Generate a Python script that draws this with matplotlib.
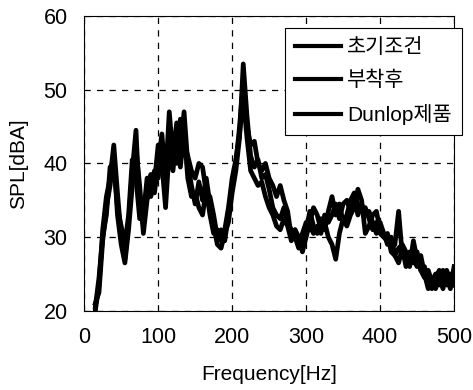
import matplotlib
matplotlib.use("Agg")
from matplotlib import pyplot as plt
import numpy as np

plt.rcParams['font.family'] = ['Liberation Sans', 'Noto Sans CJK KR', 'DejaVu Sans']

# frequency axis, 5 Hz steps
freq = np.arange(15, 505, 5)

# 초기조건
spl_init = [20.0, 23.5, 31, 35.5, 38, 42.5, 36, 30, 27, 32,
            39, 44.5, 34, 31.5, 37, 38.5, 36, 40, 44, 38,
            47, 41, 45.5, 42, 47, 40, 37, 34.5, 37.5, 35,
            38, 34.5, 31.5, 29, 28.5, 30.5, 32, 36, 39, 43.5,
            53.5, 46.5, 41, 39.5, 40.5, 38, 38.5, 36.5, 34, 33,
            32.5, 34, 32, 31, 30, 28.5, 29.5, 31, 33.5, 31.5,
            30.5, 32.5, 31, 33.5, 35.5, 33, 34.5, 32, 33, 35,
            36, 34.5, 33.5, 34, 32.5, 31, 32, 30.5, 30, 29.5,
            28.5, 29, 33.5, 27.5, 27, 26, 29.5, 27, 25.5, 26,
            24, 23, 24.5, 25.5, 24, 23.5, 25, 24.5]

# 부착후
spl_after = [21, 22.5, 29.5, 34, 37, 41, 33, 29, 26.5, 31,
             37, 42, 37, 30.5, 35, 37, 39, 38, 42, 36.5,
             44, 43, 40, 46, 43, 41, 39, 38, 40, 39.5,
             36, 35.5, 33, 30, 31, 29.5, 33, 37, 40, 45,
             51, 45, 42.5, 43, 40, 39, 40, 38, 37, 35.5,
             37, 35, 33.5, 30, 31, 30, 28, 30, 32, 34,
             33, 31, 32, 30, 29, 27, 30.5, 32.5, 31.5, 33,
             34, 36.5, 35, 30.5, 31.5, 33, 33.5, 31, 30, 30.5,
             28, 27.5, 26.5, 28.5, 26, 28, 27, 26, 27.5, 25,
             23, 24, 25, 23.5, 25.5, 24.5, 23, 26]

# Dunlop제품
spl_dunlop = [20.5, 24.5, 30, 33, 39.5, 40, 34, 31.5, 29, 33,
              40.5, 38, 32.5, 33, 38, 35.5, 37.5, 42.5, 40, 34,
              42, 39, 44, 39.5, 44.5, 38, 35.5, 36, 34, 33,
              36.5, 33, 30.5, 31, 29.5, 31, 34, 38, 40.5, 44,
              49, 43.5, 39, 38, 37, 37.5, 35.5, 34, 33, 31.5,
              31, 32.5, 31.5, 29.5, 31, 29.5, 30.5, 32, 31.5, 30.5,
              31.5, 30.5, 33, 32, 33, 34.5, 32.5, 34.5, 35, 33.5,
              35.5, 33, 34.5, 33, 33.5, 32, 30.5, 32, 30.5, 29,
              30, 27.5, 28.5, 29, 28, 27, 26.5, 28, 25.5, 24.5,
              25.5, 24, 23, 24.5, 23, 25.5, 24, 23.5]

labels = ["초기조건", "부착후", "Dunlop제품"]

fig = plt.figure(figsize=(4.73, 3.9), dpi=100)
ax = fig.add_axes([0.178, 0.203, 0.782, 0.756])

for vals, lab in zip([spl_init, spl_after, spl_dunlop], labels):
    ax.plot(freq, vals, color="black", lw=3.4, label=lab)

ax.set_xlim(0, 500)
ax.set_ylim(20, 60)
ax.set_xticks([0, 100, 200, 300, 400, 500])
ax.set_yticks([20, 30, 40, 50, 60])
ax.grid(True, color="black", linestyle=(0, (5, 5)), linewidth=0.9)
ax.tick_params(length=0, labelsize=15.5, pad=12)
for sp in ax.spines.values():
    sp.set_linewidth(0.8)

ax.set_xlabel("Frequency[Hz]", fontsize=15, labelpad=12)
ax.set_ylabel("SPL[dBA]", fontsize=15, labelpad=11)

leg = ax.legend(loc="upper right", fontsize=15, fancybox=False, framealpha=1,
                edgecolor="black", handlelength=2.2, borderpad=0.5,
                labelspacing=0.65, handletextpad=0.3, borderaxespad=0,
                bbox_to_anchor=(1.022, 0.959))
leg.get_frame().set_linewidth(0.8)
for h in leg.get_lines():
    h.set_linewidth(3)

fig.savefig("out.png", dpi=100)
